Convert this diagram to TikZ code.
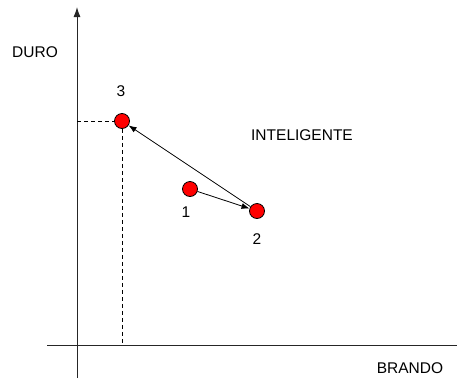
\documentclass[tikz,border=0pt]{standalone}
\usepackage{fontspec}
\setmainfont{Liberation Sans}
\usetikzlibrary{arrows.meta}
\begin{document}
\begin{tikzpicture}[x=1pt,y=-1pt,
  lbl/.style={font=\fontsize{15.5}{18}\selectfont, text=black, inner sep=0pt},
  pt/.style={circle, draw=black, fill=red, line width=0.8pt, minimum size=15pt, inner sep=0pt},
  axis/.style={line width=1pt, black!85},
  conn/.style={line width=0.8pt, -{Latex[length=8pt,width=6pt]}},
  guide/.style={line width=0.8pt, dashed, dash pattern=on 4pt off 3pt}]
\useasboundingbox (0,0) rectangle (457,378);
\coordinate (ytop) at (77,7);
\coordinate (ybot) at (77,378);
\coordinate (xl) at (47,345);
\coordinate (xr) at (457,345);
\draw[axis, -{Latex[length=10pt,width=7pt]}] (ybot) -- (ytop);
\draw[axis] (xl) -- (xr);
\coordinate (g1) at (77,121);
\coordinate (g2) at (122,345);
\node[pt] (p3) at (122,121) {};
\node[pt] (p1) at (190,189) {};
\node[pt] (p2) at (257,211) {};
\draw[guide] (g1) -- (p3.west);
\draw[guide] (p3.south) -- (g2);
\draw[conn] (p1) -- (p2);
\draw[conn] (p2) -- (p3);
\node[lbl] (l3) at (121,91) {3};
\node[lbl] (l1) at (186,212) {1};
\node[lbl] (l2) at (257,239) {2};
\node[lbl] (intel) at (302,135) {INTELIGENTE};
\node[lbl] (duro) at (35,52) {DURO};
\node[lbl] (brando) at (410,368) {BRANDO};
\end{tikzpicture}
\end{document}
